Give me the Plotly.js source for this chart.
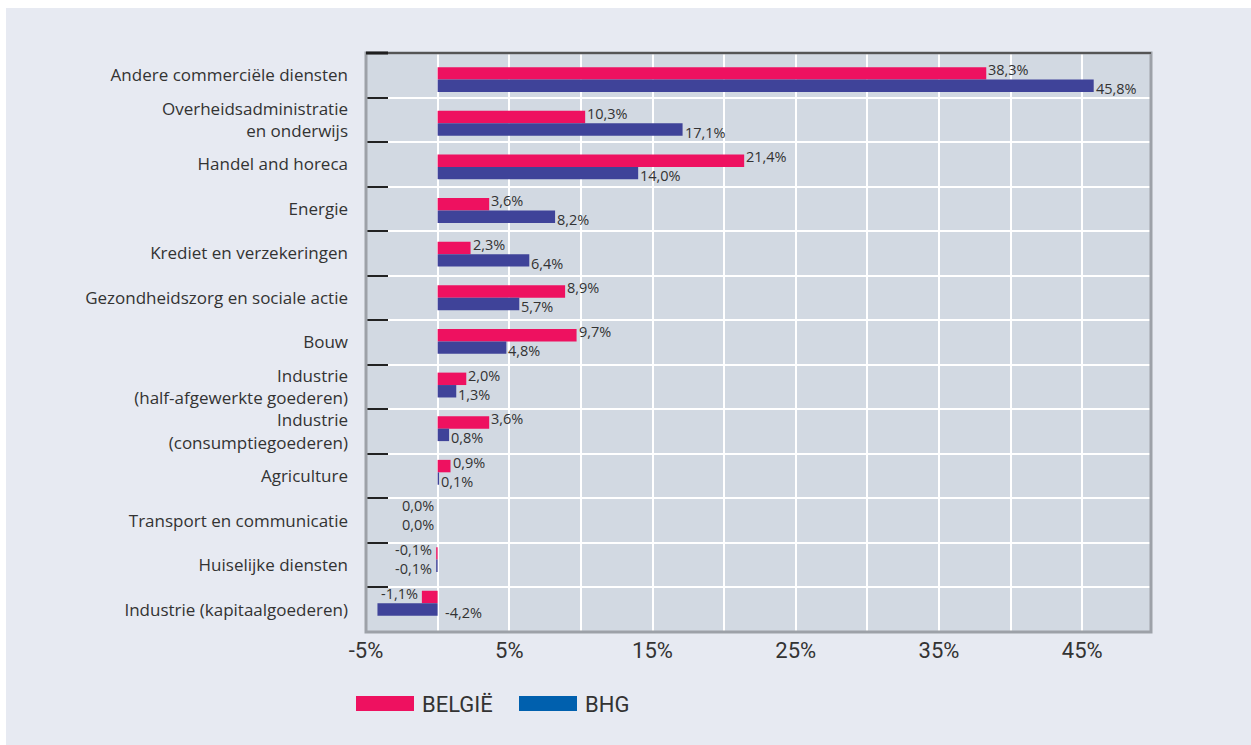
<!DOCTYPE html>
<html>
<head>
<meta charset="utf-8">
<script src="https://cdn.plot.ly/plotly-3.0.1.min.js"></script>
<style>
  html, body { margin: 0; padding: 0; background: #ffffff; width: 1251px; height: 745px; overflow: hidden; }
  #chart { position: absolute; left: 6px; top: 8px; width: 1245px; height: 737px; }
</style>
</head>
<body>
<div id="chart"></div>
<script>
const categories = [
  "Andere commerciële diensten",
  "Overheidsadministratie<br>en onderwijs",
  "Handel and horeca",
  "Energie",
  "Krediet en verzekeringen",
  "Gezondheidszorg en sociale actie",
  "Bouw",
  "Industrie<br>(half-afgewerkte goederen)",
  "Industrie<br>(consumptiegoederen)",
  "Agriculture",
  "Transport en communicatie",
  "Huiselijke diensten",
  "Industrie (kapitaalgoederen)"
];
const belgie = [38.3, 10.3, 21.4, 3.6, 2.3, 8.9, 9.7, 2.0, 3.6, 0.9, 0.0, -0.1, -1.1];
const bhg    = [45.8, 17.1, 14.0, 8.2, 6.4, 5.7, 4.8, 1.3, 0.8, 0.1, 0.0, -0.1, -4.2];
const seriesNames = ["BELGIË", "BHG"];
const xTickVals = [-5, 5, 15, 25, 35, 45];
const xTickText = ["-5%", "5%", "15%", "25%", "35%", "45%"];

const PINK = "#ee1160";
const BLUE_BAR = "#3f4399";
const BLUE_LEG = "#0060ae";
const TXT = "#333333";
const LABEL_FONT = "'Open Sans', sans-serif";
const NARROW_FONT = "'Liberation Sans Narrow', Roboto, sans-serif";

function fmt(v) { return v.toFixed(1).replace(".", ",") + "%"; }

const traces = [
  // invisible carrier so the category label axis (ticks, labels, grid at boundaries) is drawn
  { type: "scatter", mode: "markers", y: categories, x: belgie, yaxis: "y",
    marker: { opacity: 0 }, hoverinfo: "skip", showlegend: false },
  // bars sit on an overlaying category axis whose spacing matches the bars in the original
  { type: "bar", orientation: "h", name: seriesNames[0], y: categories, x: belgie, yaxis: "y2",
    marker: { color: PINK }, hoverinfo: "x+y" },
  { type: "bar", orientation: "h", name: seriesNames[1], y: categories, x: bhg, yaxis: "y2",
    marker: { color: BLUE_BAR }, hoverinfo: "x+y" }
];

const annotations = [];
function addLabels(vals, yshift) {
  vals.forEach((v, i) => {
    let a = { xref: "x", yref: "y2", y: categories[i], text: fmt(v), showarrow: false,
      yanchor: "middle", yshift: yshift, borderpad: 0,
      font: { family: LABEL_FONT, size: 14.5, color: TXT } };
    if (v > 0) { a.x = v; a.xanchor = "left"; a.xshift = 1; }
    else if (v < -2) { a.x = 0; a.xanchor = "left"; a.xshift = 6; }
    else { a.x = v; a.xanchor = "right"; a.xshift = -3; }
    annotations.push(a);
  });
}
addLabels(belgie, 10);
addLabels(bhg, -9);

// custom legend (long swatches below the plot)
const legendItems = [
  { name: seriesNames[0], color: PINK, dx: -10 },
  { name: seriesNames[1], color: BLUE_LEG, dx: 153 }
];
const shapes = [];
legendItems.forEach(it => {
  shapes.push({ type: "rect", xref: "paper", yref: "paper", xsizemode: "pixel", ysizemode: "pixel",
    xanchor: 0, yanchor: 0, x0: it.dx, x1: it.dx + 58, y0: -64, y1: -79,
    fillcolor: it.color, line: { width: 0 }, layer: "above" });
  annotations.push({ xref: "paper", yref: "paper", x: 0, y: 0, xshift: it.dx + 64, yshift: -72,
    xanchor: "left", yanchor: "middle", showarrow: false, text: it.name,
    font: { family: NARROW_FONT, size: 22, color: TXT } });
});
// plot frame
shapes.push({ type: "rect", xref: "paper", yref: "paper", x0: 0, x1: 1, y0: 0, y1: 1,
  line: { color: "#9da1a8", width: 3 }, fillcolor: "rgba(0,0,0,0)", layer: "above" });
shapes.push({ type: "line", xref: "paper", yref: "paper", x0: 0, x1: 1, y0: 1, y1: 1,
  line: { color: "#555555", width: 2 }, layer: "above" });
shapes.push({ type: "line", xref: "paper", yref: "paper", xsizemode: "pixel", xanchor: 0,
  x0: 0, x1: 22, y0: 1, y1: 1, line: { color: "#1e1e1e", width: 3 }, layer: "above" });

const layout = {
  width: 1245, height: 737,
  paper_bgcolor: "#e7eaf2",
  plot_bgcolor: "#d2d9e2",
  margin: { l: 360, r: 100, t: 45, b: 113 },
  barmode: "group", bargap: 0.43, bargroupgap: 0,
  showlegend: false,
  xaxis: {
    range: [-5, 49.8], tickvals: xTickVals, ticktext: xTickText,
    showgrid: true, gridcolor: "#ffffff", gridwidth: 2,
    minor: { dtick: 5, tick0: 0, showgrid: true, gridcolor: "#ffffff", gridwidth: 2 },
    zeroline: false, ticks: "", showline: false, ticklabelstandoff: 3,
    tickfont: { family: NARROW_FONT, size: 22, color: TXT }
  },
  yaxis: {
    type: "category", categoryorder: "array", categoryarray: categories,
    range: [12.5, -0.5], tickson: "boundaries",
    ticks: "inside", ticklen: 22, tickwidth: 2, tickcolor: "#222222",
    showgrid: true, gridcolor: "#ffffff", gridwidth: 2,
    zeroline: false, showline: false, ticklabelstandoff: 17,
    tickfont: { family: LABEL_FONT, size: 17, color: TXT }
  },
  yaxis2: {
    type: "category", categoryorder: "array", categoryarray: categories,
    overlaying: "y", side: "left", range: [12.66, -0.61],
    showticklabels: false, ticks: "", showgrid: false, zeroline: false, showline: false
  },
  annotations: annotations,
  shapes: shapes
};

Plotly.newPlot("chart", traces, layout, { displayModeBar: false, staticPlot: true });
</script>
</body>
</html>
